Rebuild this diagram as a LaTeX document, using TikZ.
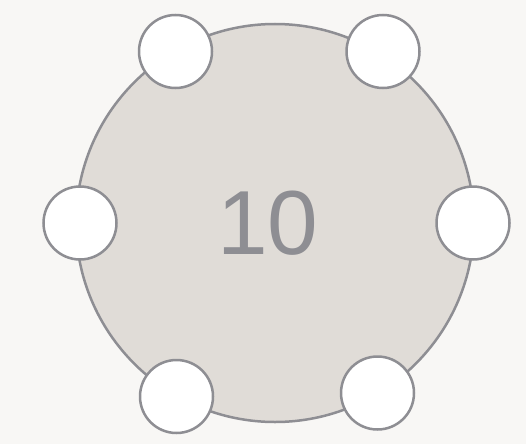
\documentclass[tikz,border=0pt]{standalone}
\usepackage{fontspec}
\setmainfont{Liberation Sans}
\definecolor{bg}{HTML}{F8F7F5}
\definecolor{table}{HTML}{E0DCD7}
\definecolor{edge}{HTML}{8E8E93}
\begin{document}
\begin{tikzpicture}[x=1pt,y=-1pt,
  seat/.style={circle,draw=edge,line width=2.5pt,fill=white,minimum size=73pt,inner sep=0pt},
  tablebox/.style={circle,draw=edge,line width=2.5pt,fill=table,minimum size=398pt,inner sep=0pt}]
\fill[bg] (0,0) rectangle (526,444);
\useasboundingbox (0,0) rectangle (526,444);
\node[tablebox] (t) at (275,223) {};
\node[text=edge,font=\fontsize{91}{91}\selectfont] (n) at (268,223) {10};
\node[seat] (s1) at (175.5,51.5) {};
\node[seat] (s2) at (383,51.5) {};
\node[seat] (s3) at (80,223) {};
\node[seat] (s4) at (473,223) {};
\node[seat] (s5) at (176.5,396.5) {};
\node[seat] (s6) at (377.5,393) {};
\end{tikzpicture}
\end{document}
